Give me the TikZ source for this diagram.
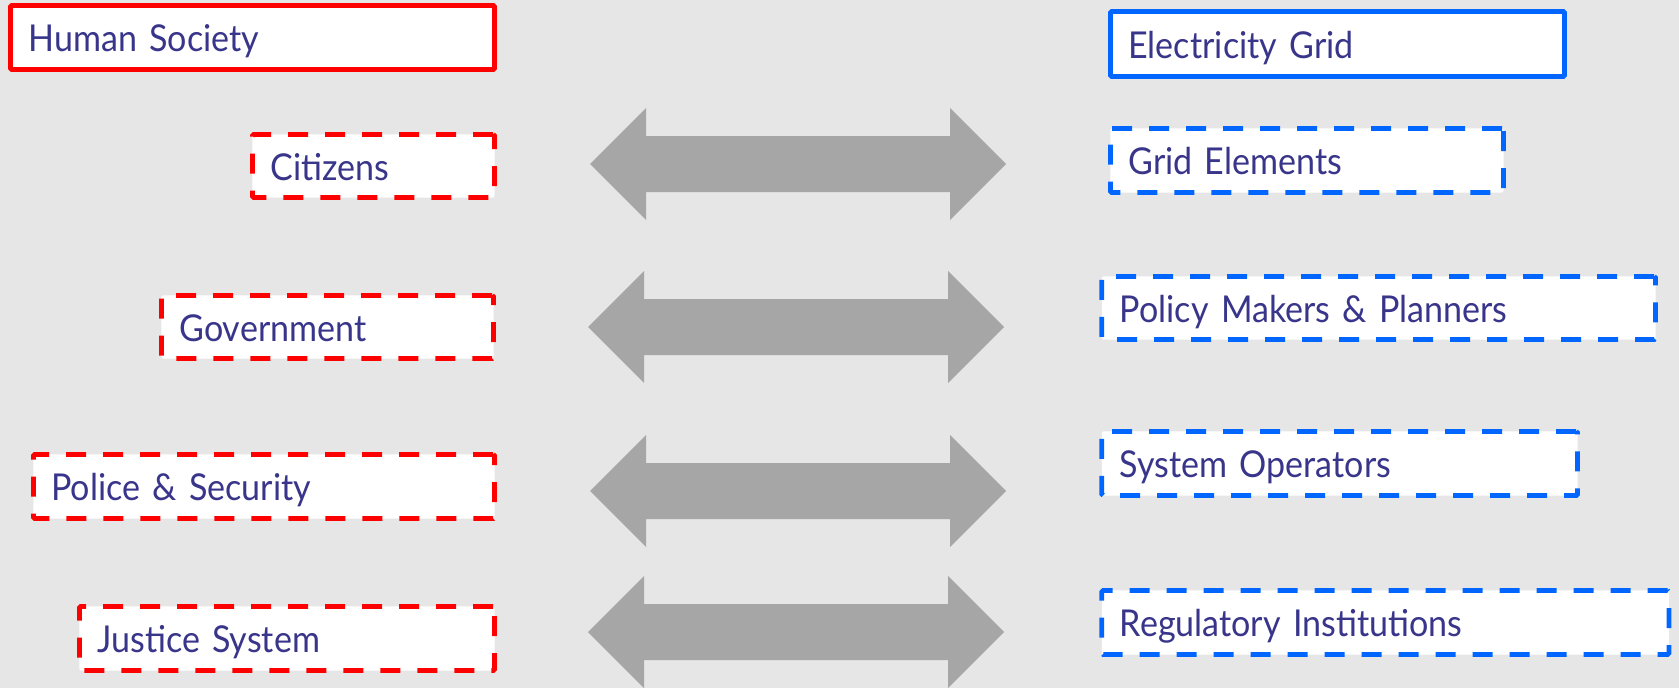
\documentclass[tikz,border=0pt]{standalone}
\usepackage{fontspec}
\setmainfont[FakeStretch=0.92, WordSpace=0.9]{Lato}
\definecolor{bg}{HTML}{E7E6E6}
\definecolor{societyred}{HTML}{FF0000}
\definecolor{gridblue}{HTML}{0066FF}
\definecolor{labelink}{HTML}{38358A}
\definecolor{linkgray}{HTML}{A6A6A6}
\tikzset{
  card/.style={draw, fill=white, line width=4.75pt, rounded corners=1.5pt,
    anchor=north west, outer sep=0pt, inner xsep=18pt, inner ysep=0pt,
    text height=28pt, text depth=0pt, align=left, text=labelink,
    font=\fontsize{37}{44}\selectfont},
  society/.style={card, draw=societyred},
  grid/.style={card, draw=gridblue},
  part/.style={dash pattern=on 20pt off 17pt},
  link/.style={fill=linkgray},
}
% block double arrow centred on a coordinate
\newcommand\linkarrow[1]{%
  \fill[link] ([xshift=-208pt]#1) -- ([xshift=-152pt,yshift=-56pt]#1)
    -- ([xshift=-152pt,yshift=-28pt]#1) -- ([xshift=152pt,yshift=-28pt]#1)
    -- ([xshift=152pt,yshift=-56pt]#1) -- ([xshift=208pt]#1)
    -- ([xshift=152pt,yshift=56pt]#1) -- ([xshift=152pt,yshift=28pt]#1)
    -- ([xshift=-152pt,yshift=28pt]#1) -- ([xshift=-152pt,yshift=56pt]#1)
    -- cycle;}
\begin{document}
\begin{tikzpicture}[x=1pt,y=-1pt]
  \useasboundingbox[fill=bg] (0,0) rectangle (1679,688);

  % human society side
  \node[society, minimum width=484.2pt, minimum height=64.2pt, text width=448.2pt] (hs) at (10.4,5.4) {Human Society};
  \node[society, part, minimum width=242.2pt, minimum height=63.2pt, text width=206.2pt] (cit) at (252.4,134.4) {Citizens};
  \node[society, part, minimum width=332.2pt, minimum height=63.2pt, text width=296.2pt] (gov) at (161.4,295.4) {Government};
  \node[society, part, minimum width=461.2pt, minimum height=64.2pt, text width=425.2pt] (pol) at (33.4,454.4) {Police \& Security};
  \node[society, part, minimum width=415.2pt, minimum height=64.2pt, text width=379.2pt] (jus) at (79.4,606.4) {Justice System};

  % electricity grid side
  \node[grid, minimum width=454.2pt, minimum height=65.2pt, text width=418.2pt] (eg) at (1110.4,11.4) {Electricity Grid};
  \node[grid, part, minimum width=393.2pt, minimum height=64.2pt, text width=357.2pt] (ge) at (1110.4,128.4) {Grid Elements};
  \node[grid, part, minimum width=553.8pt, minimum height=63.2pt, text width=517.8pt] (pm) at (1101.8,276.4) {Policy Makers \& Planners};
  \node[grid, part, minimum width=475.8pt, minimum height=64.2pt, text width=439.8pt] (so) at (1101.8,431.4) {System Operators};
  \node[grid, part, minimum width=567.2pt, minimum height=64.2pt, text width=531.2pt] (ri) at (1101.8,590.4) {Regulatory Institutions};

  % two-way links between the columns
  \coordinate (l1) at (798,164);
  \coordinate (l2) at (796,327);
  \coordinate (l3) at (798,491);
  \coordinate (l4) at (796,632);
  \linkarrow{l1}
  \linkarrow{l2}
  \linkarrow{l3}
  \linkarrow{l4}
\end{tikzpicture}
\end{document}
